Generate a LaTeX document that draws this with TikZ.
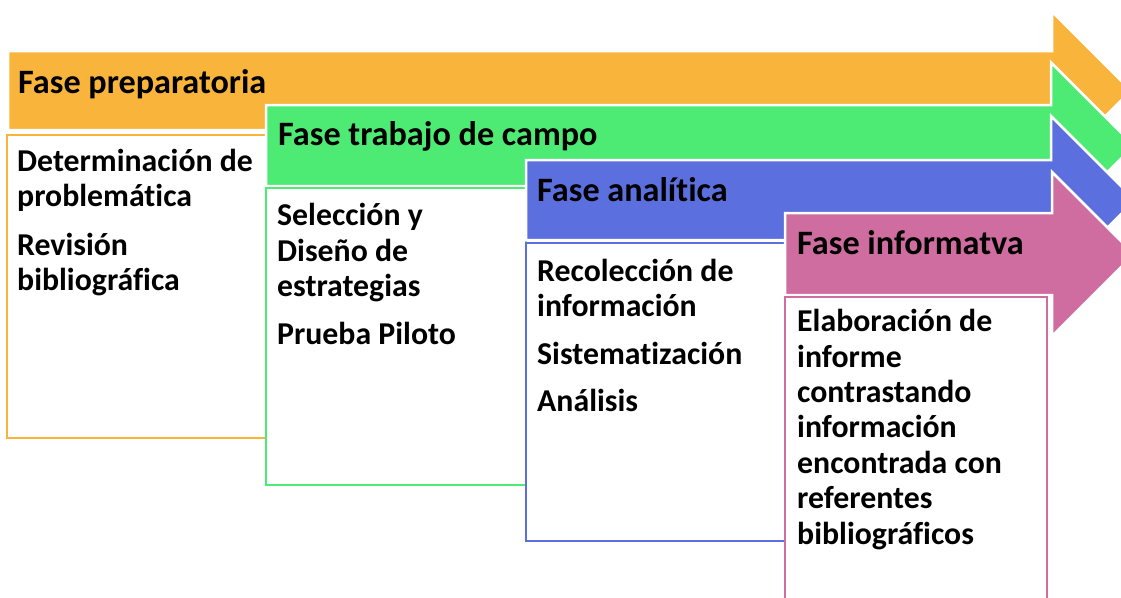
\documentclass[tikz,border=0pt]{standalone}
\usepackage{fontspec}
\setmainfont[Ligatures=NoCommon]{Carlito}
\definecolor{corange}{HTML}{F9B53B}
\definecolor{cgreen}{HTML}{4DEB73}
\definecolor{cblue}{HTML}{5B70DE}
\definecolor{cpink}{HTML}{CF6CA0}
\tikzset{
  phasearrow/.style={fill=#1, draw=white, line width=2.5pt, line join=miter},
  listbox/.style={draw=#1, line width=2.8pt, fill=white},
  title/.style={anchor=base west, inner sep=0pt, font=\fontsize{34.2}{36}\selectfont\bfseries},
  txt/.style={anchor=base west, inner sep=0pt, font=\fontsize{31.8}{35.4}\selectfont\bfseries}
}
\newcommand{\phasearrowpath}[6]{% color, L, T, B, X, H
  \pgfmathsetmacro{\cc}{(#3+#4)/2}
  \draw[phasearrow=#1] (#2,#3) -- (#5,#3) -- (#5,\cc-#6) -- (#5+#6,\cc) -- (#5,\cc+#6) -- (#5,#4) -- (#2,#4) -- cycle;
}
\begin{document}
\begin{tikzpicture}[x=1pt,y=-1pt]
\useasboundingbox (0,0) rectangle (1121,597);
\clip (0,0) rectangle (1121,597);
\fill[white] (0,0) rectangle (1121,597);
% orange
\phasearrowpath{corange}{8}{51}{130}{1052}{79}
\draw[listbox=corange] (7,135) rectangle (266,438);
% green
\phasearrowpath{cgreen}{266}{105}{186}{1051}{83}
\draw[listbox=cgreen] (266,188) rectangle (526,485);
% blue
\phasearrowpath{cblue}{526}{160}{240}{1051}{84}
\draw[listbox=cblue] (526,243) rectangle (785,541);
% pink
\phasearrowpath{cpink}{785}{213}{295}{1052}{82}
\draw[listbox=cpink] (785,297) rectangle (1047,640);

\node[title] (t1) at (18,93) {Fase preparatoria};
\node[title] (t2) at (278,145) {Fase trabajo de campo};
\node[title] (t3) at (537,201.5) {Fase analítica};
\node[title] (t4) at (797,254) {Fase informatva};

\node[txt] (b1) at (17,171) {\vtop{\hbox{Determinación de}\hbox{problemática}\vskip13.5pt\hbox{Revisión}\hbox{bibliográfica}}};
\node[txt] (b2) at (277,225.7) {\vtop{\hbox{Selección y}\hbox{Diseño de}\hbox{estrategias}\vskip13pt\hbox{Prueba Piloto}}};
\node[txt] (b3) at (537,281) {\vtop{\hbox{Recolección de}\hbox{información}\vskip12.5pt\hbox{Sistematización}\vskip12pt\hbox{Análisis}}};
\node[txt] (b4) at (797,331.7) {\vtop{\hbox{Elaboración de}\hbox{informe}\hbox{contrastando}\hbox{información}\hbox{encontrada con}\hbox{referentes}\hbox{bibliográficos}}};
\end{tikzpicture}
\end{document}
